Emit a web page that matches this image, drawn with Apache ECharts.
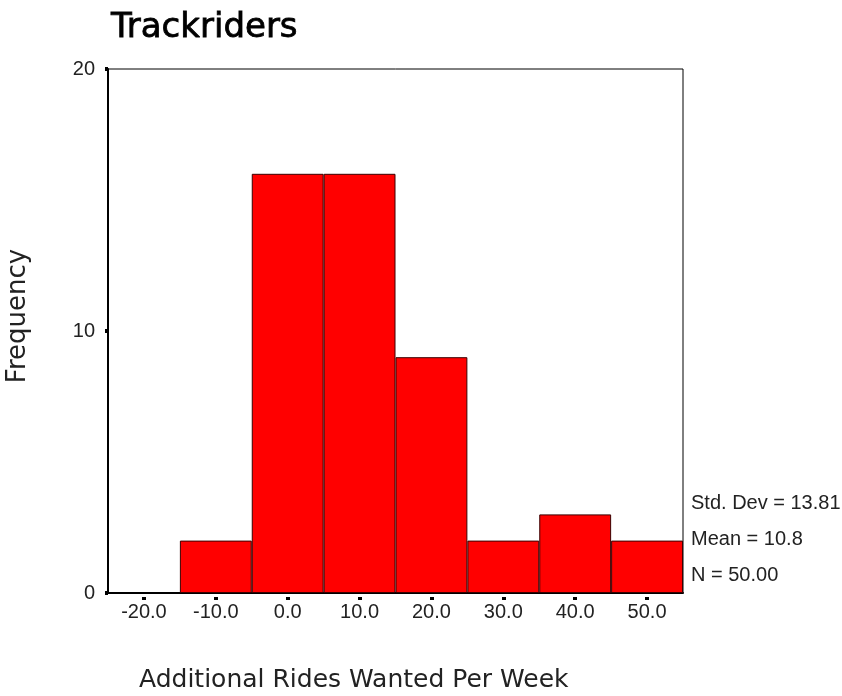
<!DOCTYPE html>
<html><head><meta charset="utf-8">
<script src="https://cdn.jsdelivr.net/npm/echarts@6/dist/echarts.min.js"></script>
<style>html,body{margin:0;padding:0;background:#fff}#c{width:842px;height:696px}</style>
</head><body><div id="c"></div>
<script>
const categories = ['-20.0','-10.0','0.0','10.0','20.0','30.0','40.0','50.0'];
const frequency = [0, 2, 16, 16, 9, 2, 3, 2];
const yTicks = [0, 10, 20];
const stats = ['Std. Dev = 13.81', 'Mean = 10.8', 'N = 50.00'];
const titleText = 'Trackriders';
const xName = 'Additional Rides Wanted Per Week';
const yName = 'Frequency';

const chart = echarts.init(document.getElementById('c'));
const font = 'Liberation Sans, Arial, sans-serif';
const wide = 'DejaVu Sans, sans-serif';
chart.setOption({
  animation: false,
  backgroundColor: '#fff',
  title: [
    {text: titleText, left: 106, top: 6, textStyle: {fontFamily: wide, fontSize: 34, fontWeight: 'normal', color: '#000',
      textBorderColor: '#000', textBorderWidth: 0.8}},
    {text: stats[0], left: 686, top: 488, textStyle: {fontFamily: font, fontSize: 20, fontWeight: 'normal', color: '#222'}},
    {text: stats[1], left: 686, top: 524, textStyle: {fontFamily: font, fontSize: 20, fontWeight: 'normal', color: '#222'}},
    {text: stats[2], left: 686, top: 560, textStyle: {fontFamily: font, fontSize: 20, fontWeight: 'normal', color: '#222'}}
  ],
  graphic: [
    {type: 'text', x: 139, y: 680, style: {text: xName, font: '25px DejaVu Sans', fill: '#222', textAlign: 'left', textVerticalAlign: 'middle'}},
    {type: 'text', x: 18, y: 316, rotation: Math.PI / 2, style: {text: yName, font: '26px DejaVu Sans', fill: '#222', textAlign: 'center', textVerticalAlign: 'middle'}}
  ],
  grid: {left: 108, top: 69, right: 159, bottom: 103, show: true, borderColor: '#000', borderWidth: 1, containLabel: false},
  xAxis: [{
    type: 'category', data: categories, boundaryGap: true,
    axisLine: {lineStyle: {color: '#000', width: 2}},
    axisTick: {show: false},
    axisLabel: {fontFamily: font, fontSize: 20, color: '#222', margin: 9}
  }, {
    type: 'category', data: categories, boundaryGap: true, position: 'bottom', offset: 4,
    axisLine: {show: false},
    axisTick: {show: true, alignWithLabel: true, length: 3, lineStyle: {color: '#000', width: 4}},
    axisLabel: {show: false}
  }],
  yAxis: {
    type: 'value', min: 0, max: 20, interval: 10,
    axisLine: {show: true, lineStyle: {color: '#000', width: 2}},
    axisTick: {show: true, length: 3, lineStyle: {color: '#000', width: 4}},
    splitLine: {show: false},
    axisLabel: {fontFamily: font, fontSize: 20, color: '#222', margin: 13,
      formatter: v => yTicks.includes(v) ? String(v) : ''}
  },
  series: [{
    type: 'bar', xAxisIndex: 0,
    data: frequency.map(v => ({value: v, itemStyle: v === 0 ? {borderWidth: 0} : {}})),
    barWidth: '100%', barCategoryGap: '0%',
    itemStyle: {color: '#ff0000', borderColor: '#3a0000', borderWidth: 1}
  }]
});
</script></body></html>
